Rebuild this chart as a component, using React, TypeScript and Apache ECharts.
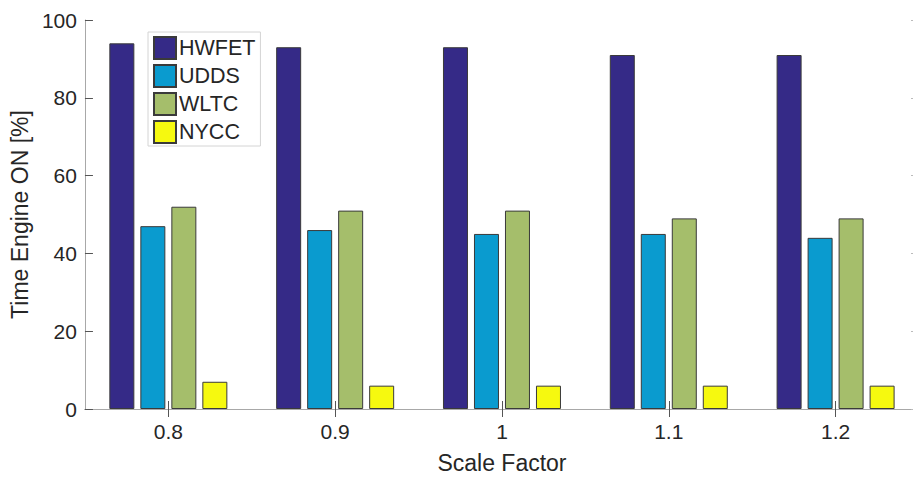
import React, { useEffect, useRef } from "react";
import * as echarts from "echarts";

const categories = ["0.8", "0.9", "1", "1.1", "1.2"];
const hwfet = [94, 93, 93, 91, 91];
const udds = [47, 46, 45, 45, 44];
const wltc = [52, 51, 51, 49, 49];
const nycc = [7, 6, 6, 6, 6];
const seriesNames = ["HWFET", "UDDS", "WLTC", "NYCC"];
const seriesColors = ["#352A87", "#0A9BCF", "#A5BE6B", "#F6F90F"];
const yTicks = { min: 0, max: 100, interval: 20 };

const FONT = "Liberation Sans, Arial, sans-serif";

export default function App() {
  const ref = useRef<HTMLDivElement>(null);
  useEffect(() => {
    document.body.style.margin = "0";
    if (!ref.current) return;
    const chart = echarts.init(ref.current, undefined, { renderer: "svg" });
    const dataSets = [hwfet, udds, wltc, nycc];
    const axisLine = { show: true, lineStyle: { color: "#a8a8a8", width: 1 } };
    const tick = { show: true, inside: true, length: 8, lineStyle: { color: "#555", width: 1 } };
    chart.setOption({
      animation: false,
      backgroundColor: "#ffffff",
      textStyle: { fontFamily: FONT },
      grid: { left: 82, top: 20, right: 0, bottom: 66, containLabel: false },
      legend: {
        data: seriesNames,
        orient: "vertical",
        left: 148,
        top: 32,
        itemWidth: 22,
        itemHeight: 22,
        itemGap: 4,
        padding: [4, 5, 2, 5],
        borderColor: "#d4d4d4",
        borderWidth: 1,
        backgroundColor: "#ffffff",
        icon: "rect",
        textStyle: { fontFamily: FONT, fontSize: 21.5, color: "#262626", padding: [0, 0, 0, -2] },
      },
      xAxis: [
        {
          type: "category",
          data: categories,
          position: "bottom",
          axisLine,
          axisTick: { ...tick, alignWithLabel: true },
          axisLabel: { fontFamily: FONT, fontSize: 21, color: "#262626", margin: 12 },
          name: "Scale Factor",
          nameLocation: "middle",
          nameGap: 42,
          nameTextStyle: { fontFamily: FONT, fontSize: 23, color: "#262626" },
          splitLine: { show: false },
        },
        {
          type: "category",
          data: categories,
          position: "top",
          axisLine,
          axisTick: { ...tick, alignWithLabel: true },
          axisLabel: { show: false },
          splitLine: { show: false },
        },
      ],
      yAxis: [
        {
          type: "value",
          min: yTicks.min,
          max: yTicks.max,
          interval: yTicks.interval,
          position: "left",
          axisLine,
          axisTick: tick,
          axisLabel: { fontFamily: FONT, fontSize: 21, color: "#262626", margin: 8 },
          splitLine: { show: false },
          name: "Time Engine ON [%]",
          nameLocation: "middle",
          nameGap: 48,
          nameTextStyle: { fontFamily: FONT, fontSize: 23, color: "#262626" },
        },
        {
          type: "value",
          min: yTicks.min,
          max: yTicks.max,
          interval: yTicks.interval,
          position: "right",
          axisLine,
          axisTick: { ...tick, lineStyle: { color: "#bbb", width: 1 } },
          axisLabel: { show: false },
          splitLine: { show: false },
        },
      ],
      series: seriesNames.map((name, i) => ({
        name,
        type: "bar",
        data: dataSets[i],
        xAxisIndex: 0,
        yAxisIndex: 0,
        barWidth: 25,
        barGap: "24%",
        itemStyle: { color: seriesColors[i], borderColor: "#3a3a3a", borderWidth: 1 },
        emphasis: { disabled: true },
      })),
    });
    return () => chart.dispose();
  }, []);
  return (
    <div style={{ width: 913, height: 479, overflow: "hidden", position: "relative" }}>
      <div ref={ref} style={{ width: 919, height: 479 }} />
    </div>
  );
}
